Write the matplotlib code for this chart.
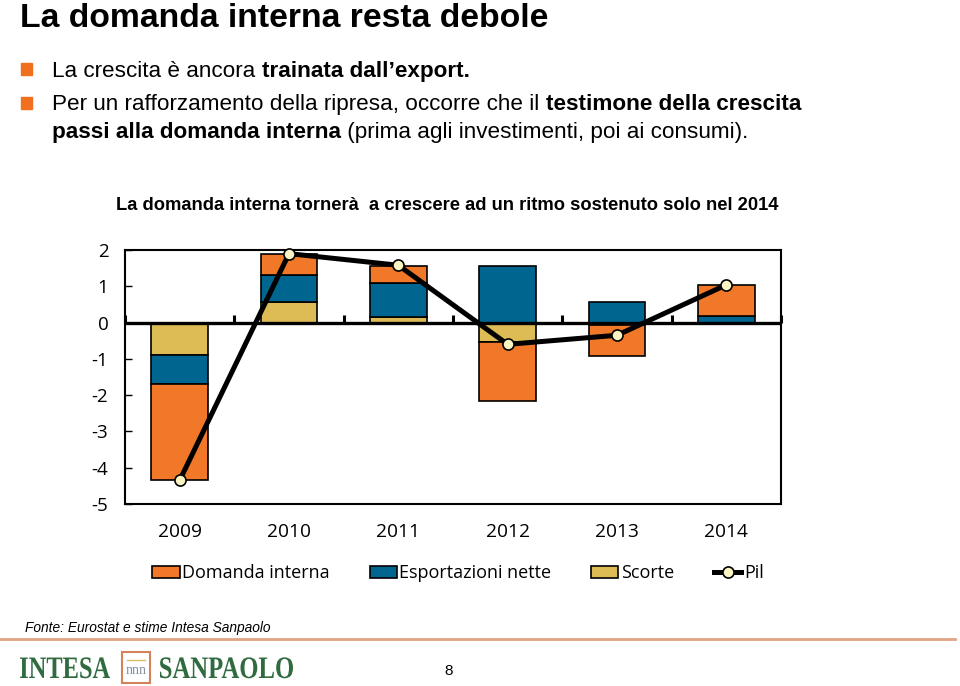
import numpy as np
import matplotlib
matplotlib.use("Agg")
import matplotlib.pyplot as plt
from matplotlib.patches import Rectangle, PathPatch
from matplotlib.lines import Line2D
from matplotlib.textpath import TextPath
from matplotlib.font_manager import FontProperties
from matplotlib.transforms import Affine2D, IdentityTransform

plt.rcParams["axes.unicode_minus"] = False

# dati del grafico (contributi alla crescita del PIL, punti percentuali)
anni = ["2009", "2010", "2011", "2012", "2013", "2014"]
domanda = [-2.65, 0.60, 0.47, -1.63, -0.86, 0.85]
esport = [-0.80, 0.72, 0.95, 1.57, 0.56, 0.19]
scorte = [-0.90, 0.58, 0.14, -0.54, -0.07, 0.0]
pil = [-4.35, 1.90, 1.58, -0.60, -0.35, 1.04]

ORANGE = "#F07828"
BLUE = "#006690"
YELLOW = "#DDBB55"
GREEN = "#2F6B3F"

W, H = 960, 686
fig = plt.figure(figsize=(W / 100, H / 100), dpi=100)
sans = "Liberation Sans"
chart_font = "Open Sans"


def fx(px):
    return px / W


def fy(py):
    return 1 - py / H


def rich_line(x, y, parts, size):
    r = fig.canvas.get_renderer()
    x = fx(x)
    for s, w in parts:
        t = fig.text(x, fy(y), s, fontsize=size, weight=w, family=sans, va="baseline")
        x += t.get_window_extent(r).width / W


def squeezed(s, x0, x1, base, cap, color):
    tp = TextPath((0, 0), s, size=100, prop=FontProperties(family="Liberation Serif", weight="bold"))
    ext = tp.get_extents()
    sx = (x1 - x0) / ext.width
    sy = cap / ext.height
    tr = Affine2D().translate(-ext.x0, 0).scale(sx, sy).translate(x0, H - base)
    fig.patches.append(PathPatch(tr.transform_path(tp), color=color, lw=0,
                                 transform=IdentityTransform(), figure=fig))


# titolo e punti elenco
fig.text(fx(20), fy(27), "La domanda interna resta debole", fontsize=24.3, weight="bold",
         family=sans, va="baseline")
for yb in (63, 97):
    fig.patches.append(Rectangle((fx(21), fy(yb + 12)), fx(11), 12 / H, color="#F07020",
                                 transform=fig.transFigure, figure=fig))
rich_line(52, 77, [("La crescita è ancora ", "normal"), ("trainata dall’export.", "bold")], 16.2)
rich_line(52, 110, [("Per un rafforzamento della ripresa, occorre che il ", "normal"),
                    ("testimone della crescita", "bold")], 16.2)
rich_line(52, 138, [("passi alla domanda interna", "bold"),
                    (" (prima agli investimenti, poi ai consumi).", "normal")], 16.2)

fig.text(fx(447), fy(210), "La domanda interna tornerà  a crescere ad un ritmo sostenuto solo nel 2014",
         fontsize=13.2, weight="bold", family=sans, ha="center", va="baseline")

# grafico
ax = fig.add_axes([fx(125), fy(504), fx(656), 254 / H])
x = np.arange(len(anni))
larg = 0.52
pos = np.zeros(len(anni))
neg = np.zeros(len(anni))
handles = {}
for vals, col, lab in [(scorte, YELLOW, "Scorte"), (esport, BLUE, "Esportazioni nette"),
                       (domanda, ORANGE, "Domanda interna")]:
    v = np.array(vals)
    base = np.where(v >= 0, pos, neg)
    bars = ax.bar(x, v, larg, bottom=base, color=col, edgecolor="black", linewidth=1.2, zorder=2)
    handles[lab] = bars
    pos += np.clip(v, 0, None)
    neg += np.clip(v, None, 0)

ax.axhline(0, color="black", lw=2.4, zorder=3)
ln, = ax.plot(x, pil, color="black", lw=3.6, marker="o", ms=8, mfc="#FBF5C4", mec="black",
              mew=1.2, zorder=5, clip_on=False)

ax.set_xlim(-0.5, 5.5)
ax.set_ylim(-5, 2)
ax.set_xticks(x)
ax.set_xticklabels(anni)
ax.set_yticks(range(-5, 3))
ax.tick_params(axis="x", length=0, pad=14, labelsize=13.8)
ax.tick_params(axis="y", direction="in", length=5, width=1, pad=12, labelsize=13.5)
for lbl in ax.get_xticklabels() + ax.get_yticklabels():
    lbl.set_family(chart_font)
for sp in ax.spines.values():
    sp.set_linewidth(1.5)

sec = ax.secondary_xaxis(5 / 7)
sec.set_xticks(np.arange(-0.5, 6, 1))
sec.set_xticklabels([])
sec.tick_params(direction="out", length=6, width=2.2)
sec.spines["bottom"].set_visible(False)
sec.spines["top"].set_visible(False)

leg = fig.legend([handles["Domanda interna"], handles["Esportazioni nette"], handles["Scorte"], ln],
                 ["Domanda interna", "Esportazioni nette", "Scorte", "Pil"],
                 loc="center", bbox_to_anchor=(fx(458), fy(573)), ncol=4, frameon=False,
                 prop=FontProperties(family=chart_font, size=13), handlelength=1.5,
                 handleheight=0.67, handletextpad=0.15, columnspacing=2.2, numpoints=1)

# piè di pagina
fig.text(fx(25), fy(632), "Fonte: Eurostat e stime Intesa Sanpaolo", fontsize=9.9, style="italic",
         family=sans, va="baseline")
fig.add_artist(Line2D([0, fx(955)], [fy(639), fy(639)], color="#E2A482", lw=2))
squeezed("INTESA", 20, 110, 678, 21, GREEN)
squeezed("SANPAOLO", 160, 293, 678, 21, GREEN)
fig.patches.append(Rectangle((fx(122), fy(683)), fx(28), 31 / H, facecolor="white",
                             edgecolor="#D4825A", lw=1.5, transform=fig.transFigure, figure=fig))
fig.add_artist(Line2D([fx(127), fx(145)], [fy(660), fy(660)], color="#D8C060", lw=1))
fig.text(fx(136), fy(674), "nnn", fontsize=10, family="Liberation Serif", color="#8090A0",
         ha="center", va="baseline")
fig.text(fx(449), fy(675), "8", fontsize=11, family=sans, ha="center", va="baseline")

fig.savefig("out.png", dpi=100)
